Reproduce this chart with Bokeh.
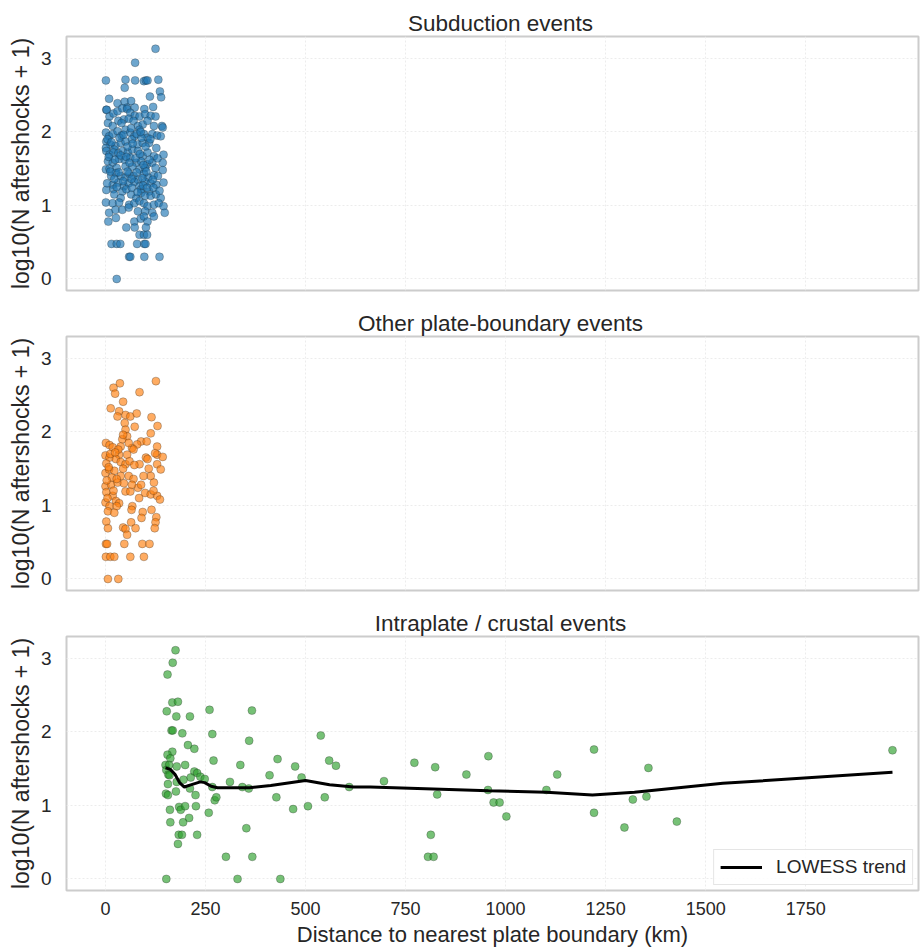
from bokeh.plotting import figure
from bokeh.layouts import column
from bokeh.models import FixedTicker, Range1d
from bokeh.embed import file_html
from bokeh.resources import INLINE

# ---------------- data ----------------
x_ticks = [0, 250, 500, 750, 1000, 1250, 1500, 1750]
y_ticks = [0, 1, 2, 3]
x_tick_labels = ["0", "250", "500", "750", "1000", "1250", "1500", "1750"]

titles = ["Subduction events", "Other plate-boundary events", "Intraplate / crustal events"]
colors = ["#1f77b4", "#ff7f0e", "#2ca02c"]

sub_dist = [125, 74, 1, 50, 74, 96, 101, 105, 132, 48, 136, 139, 111, 9, 119, 2, 30, 48, 64, 54, 73, 97,
            3, 10, 20, 30, 42, 54, 62, 73, 85, 99, 113, 125, 6, 18, 32, 46, 58, 70, 81, 93, 105, 121, 141, 143,
            1, 9, 18, 30, 40, 50, 62, 72, 85, 96, 105, 117, 129, 138, 2, 12, 25, 38, 50, 66, 80, 93, 109, 127, 1, 22,
            2, 10, 20, 32, 43, 56, 67, 81, 93, 105, 121, 145, 6, 18, 34, 48, 62, 77, 89, 104, 117, 143, 1, 10, 28, 50, 67, 85, 99, 125, 143,
            14, 26, 38, 50, 59, 70, 81, 96, 107, 121, 131, 18, 32, 46, 58, 72, 85, 99, 113, 127, 145, 2, 20, 42, 89, 109,
            22, 38, 64, 77, 89, 99, 113, 126, 138, 1, 18, 34, 59, 72, 85, 96, 105, 121, 133, 145, 9, 25, 42, 58, 81, 99, 117, 148,
            7, 26, 52, 72, 88, 96, 105, 121, 73, 85, 96, 101, 104,
            15, 28, 37, 79, 97, 100, 59, 62, 97, 135, 28,
            5, 15, 35, 45, 55, 68, 78, 90, 100, 112, 8, 24, 38, 52, 60, 75, 86, 95, 110, 130,
            12, 22, 33, 44, 55, 65, 78, 92, 102, 118, 4, 28, 52, 66, 80, 94, 104, 120, 135, 64, 88, 40]
sub_logn = [3.13, 2.94, 2.70, 2.71, 2.70, 2.69, 2.70, 2.70, 2.71, 2.60, 2.55, 2.47, 2.48, 2.45, 2.34, 2.30, 2.39, 2.41, 2.42, 2.33, 2.33, 2.31,
            2.30, 2.21, 2.25, 2.28, 2.32, 2.31, 2.26, 2.22, 2.21, 2.24, 2.22, 2.21, 2.12, 2.08, 2.15, 2.17, 2.18, 2.15, 2.08, 2.10, 2.15, 2.08, 2.08, 2.06,
            1.99, 1.94, 1.97, 2.01, 1.95, 2.03, 1.99, 1.94, 2.03, 1.97, 1.92, 1.97, 1.95, 1.94, 1.87, 1.83, 1.81, 1.85, 1.87, 1.90, 1.83, 1.85, 1.85, 1.78, 1.78, 1.76,
            1.74, 1.69, 1.72, 1.71, 1.74, 1.72, 1.76, 1.74, 1.67, 1.72, 1.67, 1.69, 1.60, 1.58, 1.63, 1.62, 1.65, 1.58, 1.60, 1.56, 1.58, 1.58, 1.49, 1.50, 1.51, 1.53, 1.53, 1.49, 1.51, 1.51, 1.48,
            1.40, 1.44, 1.40, 1.38, 1.43, 1.40, 1.35, 1.43, 1.38, 1.41, 1.40, 1.28, 1.31, 1.26, 1.30, 1.32, 1.26, 1.32, 1.30, 1.28, 1.31, 1.21, 1.22, 1.19, 1.22, 1.19,
            1.15, 1.10, 1.15, 1.10, 1.17, 1.13, 1.13, 1.15, 1.10, 1.04, 1.03, 1.04, 1.01, 1.03, 1.06, 1.03, 0.99, 1.01, 1.03, 0.99, 0.90, 0.94, 0.94, 0.97, 0.92, 0.92, 0.90, 0.90,
            0.78, 0.83, 0.70, 0.78, 0.82, 0.85, 0.78, 0.85, 0.70, 0.60, 0.60, 0.70, 0.60,
            0.477, 0.477, 0.477, 0.477, 0.477, 0.477, 0.301, 0.301, 0.301, 0.301, 0.0,
            1.90, 1.86, 1.92, 1.96, 1.80, 1.84, 1.97, 1.92, 1.80, 1.90, 1.66, 1.62, 1.68, 1.66, 1.58, 1.64, 1.70, 1.55, 1.62, 1.64,
            1.46, 1.36, 1.45, 1.33, 1.46, 1.36, 1.45, 1.37, 1.46, 1.35, 1.30, 1.25, 1.22, 1.24, 1.18, 1.27, 1.24, 1.24, 1.20, 2.05, 2.00, 2.12]

pb_dist = [126, 36, 20, 24, 85, 44, 13, 34, 30, 50, 62, 78, 115, 130, 48, 73, 50, 54, 42, 113, 89, 103, 79, 129,
           1, 10, 18, 38, 66, 129, 143, 0, 10, 34, 54, 70, 101, 105, 124,
           2, 26, 38, 50, 85, 129, 138, 0, 9, 22, 38, 58, 70, 113, 121,
           0, 14, 30, 50, 62, 81, 89, 99, 113, 129, 136,
           2, 18, 26, 34, 0, 10, 28, 6, 22, 67, 65, 93, 90, 115,
           2, 6, 64, 44, 50, 54, 75, 127, 125, 123,
           1, 4, 47, 92, 110, 1, 12, 22, 62, 96, 6, 32,
           8, 16, 28, 44, 60, 72, 95, 108, 5, 20, 46, 66, 84, 120, 12, 32, 58, 44, 3, 24]
pb_logn = [2.69, 2.66, 2.60, 2.52, 2.54, 2.41, 2.32, 2.28, 2.21, 2.23, 2.21, 2.25, 2.20, 2.08, 2.12, 2.07, 2.03, 1.94, 1.90, 1.98, 1.87, 1.87, 1.83, 1.80,
           1.85, 1.82, 1.79, 1.80, 1.78, 1.69, 1.66, 1.68, 1.65, 1.69, 1.69, 1.76, 1.65, 1.63, 1.71,
           1.57, 1.63, 1.59, 1.56, 1.56, 1.56, 1.49, 1.44, 1.49, 1.47, 1.40, 1.40, 1.36, 1.40, 1.31,
           1.26, 1.28, 1.31, 1.19, 1.19, 1.24, 1.28, 1.17, 1.15, 1.13, 1.08,
           1.18, 1.13, 1.06, 1.03, 1.04, 0.99, 0.99, 0.92, 0.90, 0.99, 0.94, 0.91, 0.83, 0.94,
           0.78, 0.69, 0.77, 0.70, 0.68, 0.60, 0.69, 0.84, 0.77, 0.69,
           0.477, 0.477, 0.477, 0.477, 0.477, 0.301, 0.301, 0.301, 0.301, 0.301, 0.0, 0.0,
           1.52, 1.38, 1.36, 1.50, 1.60, 1.55, 1.40, 1.50, 1.10, 1.20, 1.30, 1.28, 1.10, 1.20, 1.70, 1.76, 1.85, 1.96, 1.34, 1.72]

ip_dist = [175, 168, 155, 167, 181, 153, 177, 211, 260, 366,
           165, 168, 192, 267, 359, 206, 222, 167, 155, 162,
           150, 159, 178, 199, 270, 337, 152, 157, 160,
           222, 229, 237, 248, 195, 213, 178, 156, 311, 342, 358, 267,
           151, 156, 176, 211, 225, 273, 277,
           161, 184, 188, 199, 226, 258,
           162, 194, 209, 352, 183, 191, 229, 181,
           301, 367, 152, 330,
           410, 430, 474, 559, 576, 538, 490, 609, 427, 548, 469, 506, 437,
           696, 772, 824, 829, 813, 806, 820, 902, 957, 956, 970, 985, 1002, 1102, 1129, 1221, 1221, 1297, 1318, 1352, 1357, 1428, 1967]
ip_logn = [3.11, 2.94, 2.78, 2.40, 2.41, 2.28, 2.21, 2.21, 2.30, 2.29,
           2.02, 2.02, 1.98, 1.97, 1.88, 1.82, 1.77, 1.73, 1.69, 1.64,
           1.55, 1.55, 1.53, 1.55, 1.61, 1.55, 1.48, 1.42, 1.41,
           1.46, 1.44, 1.39, 1.36, 1.35, 1.38, 1.32, 1.29, 1.32, 1.25, 1.23, 1.25,
           1.16, 1.14, 1.19, 1.23, 1.14, 1.07, 1.11,
           0.94, 0.98, 0.94, 0.99, 0.99, 0.90,
           0.77, 0.77, 0.83, 0.69, 0.60, 0.60, 0.60, 0.477,
           0.301, 0.301, 0.0, 0.0,
           1.41, 1.63, 1.53, 1.61, 1.54, 1.95, 1.38, 1.25, 1.11, 1.11, 0.95, 0.99, 0.0,
           1.33, 1.58, 1.52, 1.15, 0.60, 0.301, 0.301, 1.42, 1.67, 1.21, 1.04, 1.04, 0.85, 1.21, 1.42, 1.76, 0.90, 0.70, 1.08, 1.12, 1.51, 0.78, 1.75]

lowess_dist = [150, 162, 174, 185, 197, 213, 237, 248, 264, 280, 360, 413, 500, 560, 620, 662, 957, 1102, 1217, 1322, 1543, 1967]
lowess_logn = [1.51, 1.49, 1.42, 1.31, 1.25, 1.28, 1.32, 1.31, 1.26, 1.24, 1.24, 1.27, 1.34, 1.28, 1.25, 1.25, 1.20, 1.18, 1.14, 1.18, 1.30, 1.45]

series = [(sub_dist, sub_logn), (pb_dist, pb_logn), (ip_dist, ip_logn)]

# ---------------- style ----------------
FONT = "Liberation Sans"
TXT = "#262626"
TITLE_PX = 22.5
# approximate advance widths (em) of the titles, used to centre them slightly right of the frame centre
title_em = [8.227, 12.673, 11.172]
title_centre = 434  # px from frame left

x_range = Range1d(-97.5, 2032)
y_range = Range1d(-0.157, 3.297)

panels = []
for i, (title, color, (xs, ys)) in enumerate(zip(titles, colors, series)):
    last = i == 2
    p = figure(frame_width=852, frame_height=254, x_range=x_range, y_range=y_range,
               output_backend="svg", toolbar_location=None,
               min_border_left=66, min_border_right=2,
               min_border_top=(36 if i == 0 else 29), min_border_bottom=(60 if last else 17),
               background_fill_color="white", border_fill_color="white")
    p.title.text = title
    p.title.align = "left"
    p.title.offset = title_centre - title_em[i] * TITLE_PX / 2
    p.title.text_font = FONT
    p.title.text_font_size = f"{TITLE_PX}px"
    p.title.text_font_style = "normal"
    p.title.text_color = TXT
    p.title.standoff = 2

    p.outline_line_color = "#cccccc"
    p.outline_line_width = 2

    for g in (p.xgrid, p.ygrid):
        g.grid_line_color = "#ececec"
        g.grid_line_width = 1
        g.grid_line_dash = "2 2"
    p.xgrid.ticker = FixedTicker(ticks=x_ticks)
    p.ygrid.ticker = FixedTicker(ticks=y_ticks)

    p.yaxis.ticker = FixedTicker(ticks=y_ticks)
    p.yaxis.axis_label = "log10(N aftershocks + 1)"
    for ax in (p.xaxis, p.yaxis):
        ax.axis_line_color = None
        ax.major_tick_line_color = None
        ax.minor_tick_line_color = None
        ax.major_tick_out = 0
        ax.major_tick_in = 0
        ax.major_label_text_font = FONT
        ax.major_label_text_font_size = "19px"
        ax.major_label_text_color = TXT
        ax.axis_label_text_font = FONT
        ax.axis_label_text_font_size = "22px"
        ax.axis_label_text_font_style = "normal"
        ax.axis_label_text_color = TXT
    p.yaxis.axis_label_text_font_size = "23px"
    p.yaxis.major_label_standoff = 15
    p.yaxis.axis_label_standoff = 4

    if last:
        p.xaxis.ticker = FixedTicker(ticks=x_ticks)
        p.xaxis.major_label_overrides = {t: l for t, l in zip(x_ticks, x_tick_labels)}
        p.xaxis.major_label_text_font_size = "18px"
        p.xaxis.major_label_standoff = 11
        p.xaxis.axis_label = "Distance to nearest plate boundary (km)"
        p.xaxis.axis_label_standoff = 4
    else:
        p.xaxis.visible = False

    p.scatter(xs, ys, size=8, fill_color=color, fill_alpha=0.65,
              line_color="#222222", line_alpha=0.55, line_width=0.5)

    if last:
        p.line(lowess_dist, lowess_logn, line_color="black", line_width=3,
               legend_label="LOWESS trend")
        lg = p.legend[0]
        lg.location = "bottom_right"
        lg.label_text_font = FONT
        lg.label_text_font_size = "19px"
        lg.label_text_color = TXT
        lg.border_line_color = "#cccccc"
        lg.border_line_width = 1.5
        lg.background_fill_alpha = 0.85
        lg.glyph_width = 42
        lg.margin = 5
        lg.padding = 6
        lg.label_standoff = 14

    panels.append(p)

layout = column(*panels)
open("out.html", "w").write(file_html(layout, INLINE))
